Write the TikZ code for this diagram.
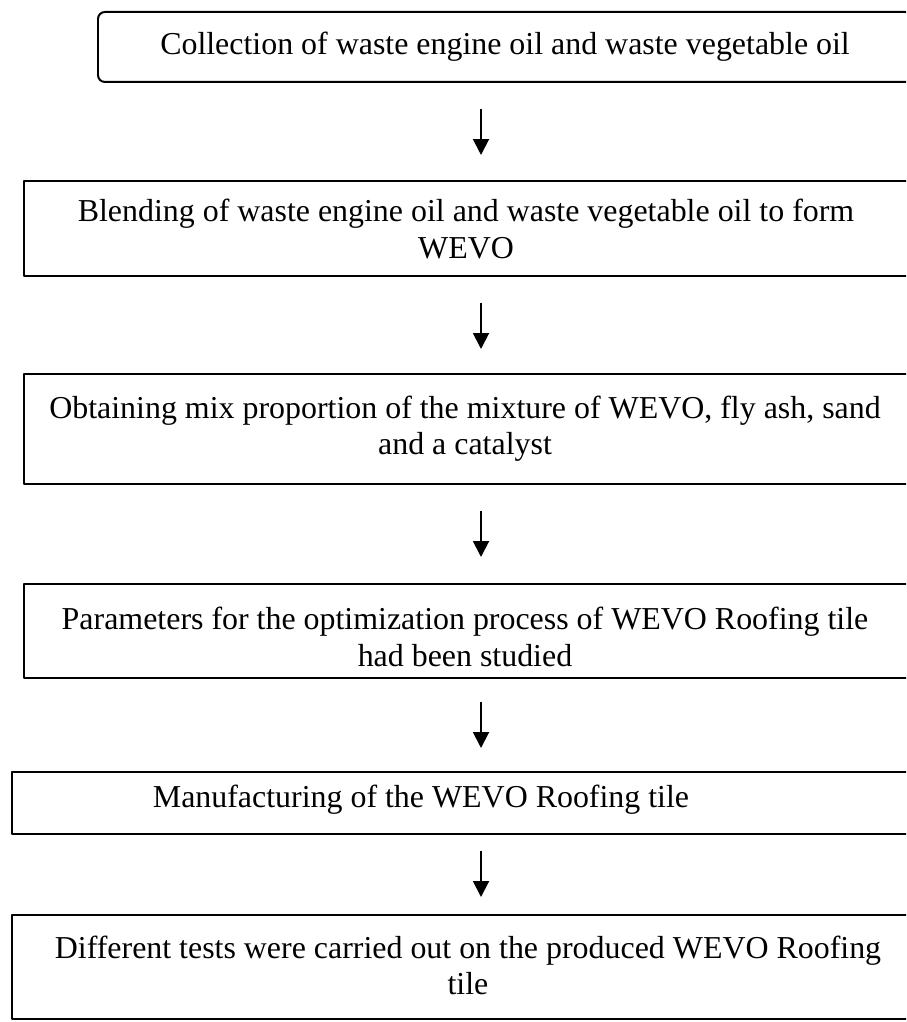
\documentclass[tikz,border=0pt]{standalone}
\usepackage{fontspec}
\setmainfont{Liberation Serif}
\usetikzlibrary{arrows.meta}
\begin{document}
\begin{tikzpicture}[x=0.376pt,y=-0.376pt, font=\fontsize{12}{13.6}\selectfont, line join=round,
	stepbox/.style={draw, line width=0.75pt, inner sep=0pt, outer sep=0pt},
	steptext/.style={align=center, inner sep=0pt},
	flow/.style={line width=0.75pt, -{Triangle[width=6pt,length=6pt]}}]
	\def\pxu{0.376pt} % 1 px
	\useasboundingbox (0,0) rectangle (906,1022);
	\clip (0,0) rectangle (906,1022);
	% boxes
	\node[stepbox, rounded corners=2.6pt, minimum width=814*\pxu, minimum height=70*\pxu] (b1) at (505,47) {};
	\node[stepbox, minimum width=888*\pxu, minimum height=95*\pxu] (b2) at (468,228.5) {};
	\node[stepbox, minimum width=888*\pxu, minimum height=110*\pxu] (b3) at (468,429) {};
	\node[stepbox, minimum width=888*\pxu, minimum height=94*\pxu] (b4) at (468,631) {};
	\node[stepbox, minimum width=900*\pxu, minimum height=62*\pxu] (b5) at (462,803) {};
	\node[stepbox, minimum width=900*\pxu, minimum height=104*\pxu] (b6) at (462,967) {};
	% texts
	\node[steptext] (t1) at (505,47) {Collection of waste engine oil and waste vegetable oil};
	\node[steptext] (t2) at (466,229) {Blending of waste engine oil and waste vegetable oil to form\\WEVO};
	\node[steptext] (t3) at (465,429) {Obtaining mix proportion of the mixture of WEVO, fly ash, sand\\and a catalyst};
	\node[steptext] (t4) at (465,637) {Parameters for the optimization process of WEVO Roofing tile\\had been studied};
	\node[steptext] (t5) at (421,800) {Manufacturing of the WEVO Roofing tile};
	\node[steptext] (t6) at (468,965) {Different tests were carried out on the produced WEVO Roofing\\tile};
	% arrows
	\coordinate (ax) at (481,0);
	\foreach \p/\q/\g/\h in {b1/b2/27/26, b2/b3/27/25, b3/b4/27/27, b4/b5/24/24, b5/b6/17/18}
	\draw[flow, shorten <=\g*\pxu, shorten >=\h*\pxu] (\p.south -| ax) -- (\q.north -| ax);
\end{tikzpicture}
\end{document}
